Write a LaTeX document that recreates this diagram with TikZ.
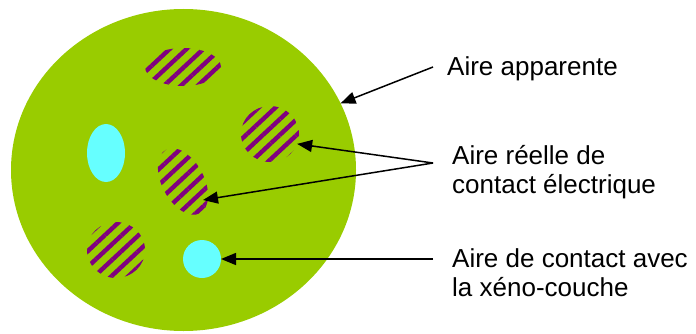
\documentclass[tikz,border=0pt]{standalone}
\usepackage{fontspec}
\setmainfont{Liberation Sans}
\usetikzlibrary{arrows.meta, patterns.meta, shapes.geometric, calc}
\definecolor{fondvert}{RGB}{153, 204, 0}
\definecolor{rayviolet}{RGB}{128, 0, 128}
\definecolor{cyanclair}{RGB}{102, 255, 255}

\begin{document}
\begin{tikzpicture}[x=1pt, y=1pt, >={Triangle[length=15pt, width=12pt]},
    apparent/.style={
        ellipse, fill=fondvert, inner sep=0pt, outer sep=0pt
    },
    hatch/.style={
        ellipse, inner sep=0pt, outer sep=0pt,
        pattern={Lines[angle=43, distance=11.5pt, line width=4.4pt]},
        pattern color=rayviolet
    },
    xeno/.style={
        ellipse, fill=cyanclair, inner sep=0pt, outer sep=0pt
    },
    pointer/.style={->, line width=1.5pt, black},
    tlab/.style={font=\fontsize{26}{29}\selectfont, align=left,
                 anchor=base west, inner sep=0pt},
]
    \useasboundingbox (0,0) rectangle (696,333);

    % --- aire apparente ---
    \node[apparent, minimum width=345pt, minimum height=322pt] (big) at (183.5,163) {};

    % --- aires reelles (hachurees) ---
    \node[hatch, minimum width=76pt, minimum height=38pt] (rA) at (183,266) {};
    \node[hatch, minimum width=58pt, minimum height=56pt] (rB) at (270,199) {};
    \node[hatch, minimum width=72pt, minimum height=42pt, rotate=-62] (rC) at (183,151.5) {};
    \node[hatch, minimum width=58pt, minimum height=56pt] (rD) at (116,83) {};

    % --- contacts avec la xeno-couche ---
    \node[xeno, minimum width=38pt, minimum height=58pt] (xA) at (106,180) {};
    \node[xeno, minimum width=38pt, minimum height=38pt] (xB) at (202,74) {};

    % --- legendes (ancre sur la derniere ligne) ---
    \node[tlab] (lapp)  at (447,258) {Aire apparente};
    \node[tlab] (lreel) at (452,140) {Aire réelle de\\contact électrique};
    \node[tlab] (lxeno) at (452,37)  {Aire de contact avec\\la xéno-couche};

    \coordinate (papp)  at (433,266);
    \coordinate (preel) at (433,170);
    \coordinate (pxeno) at (433,74);

    % --- fleches ---
    \draw[pointer] (papp) -- (big.23);
    \draw[pointer] (preel) -- (rB.-20);
    \draw[pointer] (preel) -- ($(rC.center)+(20,-18.5)$);
    \draw[pointer] (pxeno) -- (xB.east);

\end{tikzpicture}
\end{document}
